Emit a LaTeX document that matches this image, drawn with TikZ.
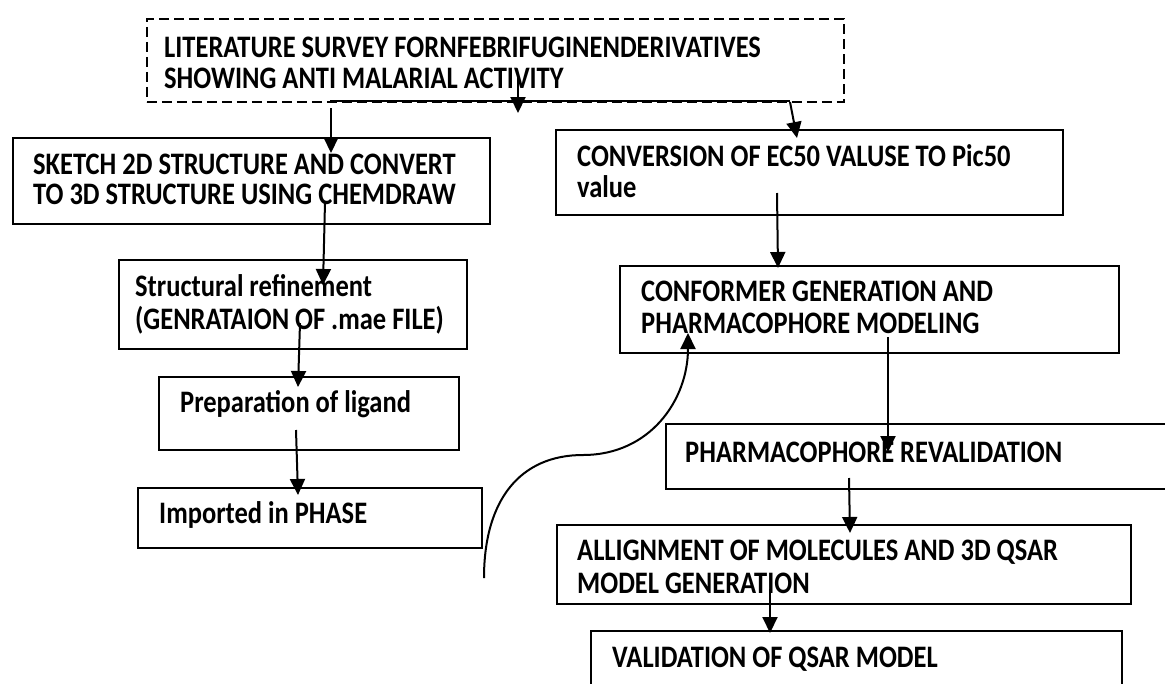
\documentclass[tikz,border=0pt]{standalone}
\usepackage{fontspec}
\setmainfont{Carlito}
\usetikzlibrary{arrows.meta}
\newcommand{\tall}[1]{\scalebox{1}[1.18]{#1}}
\begin{document}
\begin{tikzpicture}[x=1pt,y=-1pt,
  box/.style={draw=black, line width=1.8pt, rectangle, inner sep=0pt, anchor=north west},
  dbox/.style={box, dash pattern=on 10pt off 5pt, line width=1.8pt},
  txt/.style={anchor=base west, inner sep=0pt, font=\fontsize{26.5}{32}\selectfont\bfseries},
  arr/.style={line width=2pt, -{Triangle[length=16pt,width=15pt]}},
  ln/.style={line width=1.8pt}]
\useasboundingbox[fill=white] (0,0) rectangle (1165,683);
% boxes
\node[dbox, minimum width=697pt, minimum height=83pt] (b1) at (146,18) {};
\node[box, minimum width=477pt, minimum height=86pt] (b2) at (12,137) {};
\node[box, minimum width=507pt, minimum height=85pt] (b3) at (555,129) {};
\node[box, minimum width=348pt, minimum height=89pt] (b4) at (118,259) {};
\node[box, minimum width=300pt, minimum height=73pt] (b5) at (158,376) {};
\node[box, minimum width=344pt, minimum height=60pt] (b6) at (137,487) {};
\node[box, minimum width=499pt, minimum height=87pt] (b7) at (619,265) {};
\node[box, minimum width=520pt, minimum height=65pt] (b8) at (665,423) {};
\node[box, minimum width=574pt, minimum height=79pt] (b9) at (556,524) {};
\node[box, minimum width=531pt, minimum height=80pt] (b10) at (590,630) {};
% texts
\node[txt] (t1a) at (164,57) {\tall{LITERATURE SURVEY FORNFEBRIFUGINENDERIVATIVES}};
\node[txt] (t1b) at (164,88) {\tall{SHOWING ANTI MALARIAL ACTIVITY}};
\node[txt] (t2a) at (33,174) {\tall{SKETCH 2D STRUCTURE AND CONVERT}};
\node[txt] (t2b) at (33,204) {\tall{TO 3D STRUCTURE USING CHEMDRAW}};
\node[txt] (t3a) at (577,166) {\tall{CONVERSION OF EC50 VALUSE TO Pic50}};
\node[txt] (t3b) at (577,197) {\tall{value}};
\node[txt] (t4a) at (135,296) {\tall{Structural refinement}};
\node[txt] (t4b) at (135,329) {\tall{(GENRATAION OF .mae FILE)}};
\node[txt] (t5) at (180,412) {\tall{Preparation of ligand}};
\node[txt] (t6) at (159,523) {\tall{Imported in PHASE}};
\node[txt] (t7a) at (641,301) {\tall{CONFORMER GENERATION AND}};
\node[txt] (t7b) at (641,333) {\tall{PHARMACOPHORE MODELING}};
\node[txt] (t8) at (685,462) {\tall{PHARMACOPHORE REVALIDATION}};
\node[txt] (t9a) at (577,560) {\tall{ALLIGNMENT OF MOLECULES AND 3D QSAR}};
\node[txt] (t9b) at (577,593) {\tall{MODEL GENERATION}};
\node[txt] (t10) at (612,667) {\tall{VALIDATION OF QSAR MODEL}};
% connector end points
\coordinate (s0) at (518,75);   \coordinate (e0) at (518,113);
\coordinate (s1) at (331,108);  \coordinate (e1) at (331,153);
\coordinate (s2) at (790,102);  \coordinate (e2) at (797,138);
\coordinate (s3) at (325,202);  \coordinate (e3) at (323,285);
\coordinate (s4) at (300,323);  \coordinate (e4) at (298,387);
\coordinate (s5) at (296,430);  \coordinate (e5) at (298,495);
\coordinate (s6) at (777,193);  \coordinate (e6) at (778,268);
\coordinate (s7) at (888,337);  \coordinate (e7) at (888,452);
\coordinate (s8) at (849,478);  \coordinate (e8) at (850,533);
\coordinate (s9) at (770,589);  \coordinate (e9) at (770,633);
\coordinate (cs) at (484,578);  \coordinate (cm) at (583,455);  \coordinate (ce) at (688,333);
\coordinate (la) at (330,101);  \coordinate (lb) at (790,101);
% connectors
\draw[ln] (la) -- (lb);
\draw[arr] (s0) -- (e0);
\draw[arr] (s1) -- (e1);
\draw[arr] (s2) -- (e2);
\draw[arr] (s3) -- (e3);
\draw[arr] (s4) -- (e4);
\draw[arr] (s5) -- (e5);
\draw[arr] (s6) -- (e6);
\draw[arr] (s7) -- (e7);
\draw[arr] (s8) -- (e8);
\draw[arr] (s9) -- (e9);
\draw[arr] (cs) .. controls (484,500) and (520,455) .. (cm) .. controls (650,455) and (688,400) .. (ce);
\end{tikzpicture}
\end{document}
